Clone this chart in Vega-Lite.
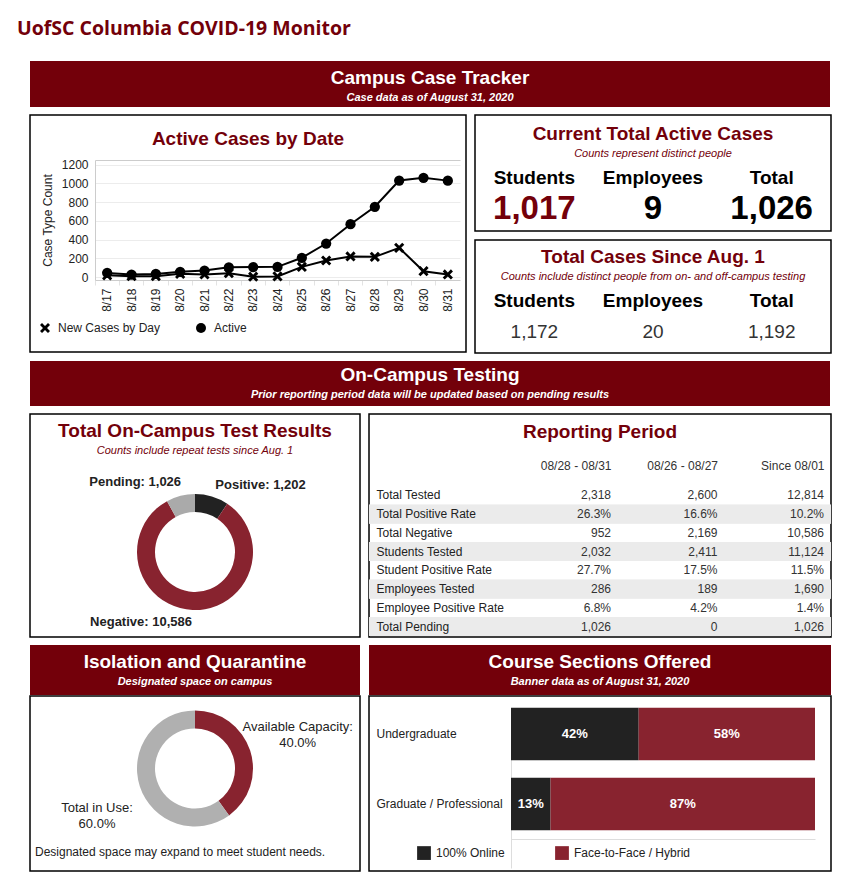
{
  "$schema": "https://vega.github.io/schema/vega-lite/v6.json",
  "background": "white",
  "padding": {"left": 17, "top": 18, "right": 4, "bottom": 2},
  "title": {"text": "UofSC Columbia COVID-19 Monitor", "anchor": "start", "dx": -13, "font": "Open Sans", "fontSize": 19.5, "fontWeight": "bold", "color": "#73000a", "offset": 22},
  "config": {
    "font": "Liberation Sans",
    "view": {"stroke": null},
    "title": {"color": "#73000a", "fontSize": 19, "fontWeight": "bold", "subtitleFontSize": 11, "subtitleFontStyle": "italic", "subtitleColor": "#73000a", "anchor": "middle", "frame": "group", "subtitlePadding": 4}
  },
  "spacing": 7,
  "resolve": {"scale": {"color": "independent", "shape": "independent"}, "legend": {"color": "independent", "shape": "independent"}},
  "vconcat": [
    {
      "width": 800, "height": 46,
      "data": {"values": [{"section": "Campus Case Tracker"}]},
      "title": {"text": "Campus Case Tracker", "subtitle": "Case data as of August 31, 2020", "color": "white", "subtitleColor": "white", "subtitleFontWeight": "bold", "offset": -42},
      "mark": {"type": "rect", "color": "#73000a"},
      "encoding": {}
    },
    {
      "spacing": 7,
      "resolve": {"scale": {"color": "independent", "shape": "independent"}, "legend": {"color": "independent", "shape": "independent"}},
      "hconcat": [
        {
          "width": 436, "height": 237,
          "view": {"stroke": "black", "strokeWidth": 1.5},
          "title": {"text": "Active Cases by Date", "offset": -34},
          "data": {"values": [
            {"date": "8/17", "series": "Active", "count": 45}, {"date": "8/18", "series": "Active", "count": 28},
            {"date": "8/19", "series": "Active", "count": 35}, {"date": "8/20", "series": "Active", "count": 57},
            {"date": "8/21", "series": "Active", "count": 71}, {"date": "8/22", "series": "Active", "count": 105},
            {"date": "8/23", "series": "Active", "count": 108}, {"date": "8/24", "series": "Active", "count": 110},
            {"date": "8/25", "series": "Active", "count": 207}, {"date": "8/26", "series": "Active", "count": 359},
            {"date": "8/27", "series": "Active", "count": 565}, {"date": "8/28", "series": "Active", "count": 751},
            {"date": "8/29", "series": "Active", "count": 1031}, {"date": "8/30", "series": "Active", "count": 1060},
            {"date": "8/31", "series": "Active", "count": 1030},
            {"date": "8/17", "series": "New Cases by Day", "count": 20}, {"date": "8/18", "series": "New Cases by Day", "count": 10},
            {"date": "8/19", "series": "New Cases by Day", "count": 11}, {"date": "8/20", "series": "New Cases by Day", "count": 36},
            {"date": "8/21", "series": "New Cases by Day", "count": 29}, {"date": "8/22", "series": "New Cases by Day", "count": 43},
            {"date": "8/23", "series": "New Cases by Day", "count": 5}, {"date": "8/24", "series": "New Cases by Day", "count": 8},
            {"date": "8/25", "series": "New Cases by Day", "count": 110}, {"date": "8/26", "series": "New Cases by Day", "count": 178},
            {"date": "8/27", "series": "New Cases by Day", "count": 221}, {"date": "8/28", "series": "New Cases by Day", "count": 217},
            {"date": "8/29", "series": "New Cases by Day", "count": 313}, {"date": "8/30", "series": "New Cases by Day", "count": 64},
            {"date": "8/31", "series": "New Cases by Day", "count": 29}
          ]},
          "encoding": {
            "x": {"field": "date", "type": "ordinal", "sort": null,
                  "scale": {"type": "band", "range": [65, 430], "paddingInner": 0, "paddingOuter": 0},
                  "axis": {"orient": "bottom", "offset": -72, "title": null, "labelAngle": -90, "labelFontSize": 12, "labelColor": "#222", "labelPadding": 3, "bandPosition": 0, "tickColor": "#e3e3e3", "tickSize": 5, "domainColor": "#ccc", "grid": false}},
            "y": {"field": "count", "type": "quantitative",
                  "scale": {"domain": [-30, 1250], "range": [165, 45], "nice": false, "zero": false},
                  "axis": {"orient": "left", "offset": -65, "values": [0, 200, 400, 600, 800, 1000, 1200, 1250], "labelExpr": "datum.value > 1200 ? '' : datum.label", "format": "d", "title": "Case Type Count", "titleFontSize": 12, "titleFontWeight": "normal", "titleColor": "#222", "titlePadding": 7, "labelFontSize": 12, "labelColor": "#222", "ticks": false, "labelPadding": 7, "domainColor": "#ccc", "grid": true, "gridColor": {"condition": {"test": "datum.value > 1200", "value": "#cccccc"}, "value": "#ececec"}}}
          },
          "layer": [
            {"mark": {"type": "line", "color": "black", "strokeWidth": 2},
             "encoding": {"detail": {"field": "series"}}},
            {"mark": {"type": "point", "filled": true, "color": "black", "opacity": 1, "size": 105},
             "encoding": {"shape": {"field": "series", "type": "nominal",
               "scale": {"domain": ["New Cases by Day", "Active"], "range": ["M-1,-0.6L-0.6,-1L0,-0.4L0.6,-1L1,-0.6L0.4,0L1,0.6L0.6,1L0,0.4L-0.6,1L-1,0.6L-0.4,0Z", "circle"]},
               "legend": {"title": null, "orient": "none", "legendX": 9, "legendY": 207, "direction": "horizontal", "labelFontSize": 12, "labelColor": "#222", "symbolFillColor": "black", "symbolStrokeColor": "black", "symbolSize": 100, "columnPadding": 32, "labelOffset": 7}}}}
          ]
        },
        {
          "spacing": 7,
          "vconcat": [
            {
              "width": 356, "height": 116,
              "view": {"stroke": "black", "strokeWidth": 1.5},
              "title": {"text": "Current Total Active Cases", "subtitle": "Counts represent distinct people", "offset": -44},
              "data": {"values": [{"group": "Students", "count": "1,017"}, {"group": "Employees", "count": "9"}, {"group": "Total", "count": "1,026"}]},
              "encoding": {"x": {"field": "group", "type": "nominal", "sort": null, "scale": {"type": "band", "paddingInner": 0, "paddingOuter": 0}, "axis": null}},
              "layer": [
                {"mark": {"type": "text", "fontSize": 19, "fontWeight": "bold", "color": "black", "dy": 5}, "encoding": {"text": {"field": "group"}}},
                {"mark": {"type": "text", "fontSize": 33, "fontWeight": "bold", "dy": 36},
                 "encoding": {"text": {"field": "count"}, "color": {"condition": {"test": "datum.group === 'Students'", "value": "#73000a"}, "value": "black"}}}
              ]
            },
            {
              "width": 356, "height": 113,
              "view": {"stroke": "black", "strokeWidth": 1.5},
              "title": {"text": "Total Cases Since Aug. 1", "subtitle": "Counts include distinct people from on- and off-campus testing", "offset": -42},
              "data": {"values": [{"group": "Students", "count": "1,172"}, {"group": "Employees", "count": "20"}, {"group": "Total", "count": "1,192"}]},
              "encoding": {"x": {"field": "group", "type": "nominal", "sort": null, "scale": {"type": "band", "paddingInner": 0, "paddingOuter": 0}, "axis": null}},
              "layer": [
                {"mark": {"type": "text", "fontSize": 19, "fontWeight": "bold", "color": "black", "dy": 4.5}, "encoding": {"text": {"field": "group"}}},
                {"mark": {"type": "text", "fontSize": 19, "color": "#333", "dy": 35.5}, "encoding": {"text": {"field": "count"}}}
              ]
            }
          ]
        }
      ]
    },
    {
      "width": 800, "height": 45,
      "data": {"values": [{"section": "On-Campus Testing"}]},
      "title": {"text": "On-Campus Testing", "subtitle": "Prior reporting period data will be updated based on pending results", "color": "white", "subtitleColor": "white", "subtitleFontWeight": "bold", "offset": -39},
      "mark": {"type": "rect", "color": "#73000a"},
      "encoding": {}
    },
    {
      "spacing": 7,
      "resolve": {"scale": {"color": "independent", "shape": "independent"}, "legend": {"color": "independent", "shape": "independent"}},
      "hconcat": [
        {
          "width": 330, "height": 223,
          "view": {"stroke": "black", "strokeWidth": 1.5},
          "title": {"text": "Total On-Campus Test Results", "subtitle": "Counts include repeat tests since Aug. 1", "offset": -42},
          "data": {"values": [
            {"result": "Positive", "count": 1202, "label": "Positive: 1,202"},
            {"result": "Negative", "count": 10586, "label": "Negative: 10,586"},
            {"result": "Pending", "count": 1026, "label": "Pending: 1,026"}
          ]},
          "transform": [{"window": [{"op": "row_number", "as": "seq"}]}],
          "encoding": {
            "theta": {"field": "count", "type": "quantitative", "stack": true},
            "order": {"field": "seq", "type": "quantitative"}
          },
          "layer": [
            {"mark": {"type": "arc", "innerRadius": 40, "outerRadius": 58, "yOffset": 26.5},
             "encoding": {"color": {"field": "result", "type": "nominal", "scale": {"domain": ["Positive", "Negative", "Pending"], "range": ["#222222", "#88232f", "#aaaaaa"]}, "legend": null}}},
            {"mark": {"type": "text", "radius": 70, "align": "left", "baseline": "middle", "fontSize": 13, "fontWeight": "bold", "color": "#222", "dy": 26.5},
             "encoding": {"text": {"condition": {"test": "datum.result === 'Positive'", "field": "label"}, "value": ""}}},
            {"mark": {"type": "text", "radius": 70, "align": "right", "baseline": "middle", "fontSize": 13, "fontWeight": "bold", "color": "#222", "dy": 26.5},
             "encoding": {"text": {"condition": {"test": "datum.result === 'Negative'", "field": "label"}, "value": ""}}},
            {"mark": {"type": "text", "radius": 72, "align": "right", "baseline": "middle", "fontSize": 13, "fontWeight": "bold", "color": "#222", "dy": 26.5, "dx": 4},
             "encoding": {"text": {"condition": {"test": "datum.result === 'Pending'", "field": "label"}, "value": ""}}}
          ]
        },
        {
          "width": 462, "height": 223,
          "view": {"stroke": "black", "strokeWidth": 1.5},
          "title": {"text": "Reporting Period", "offset": -28},
          "data": {"values": [
            {"metric": "Total Tested", "period": "08/28 - 08/31", "value": "2,318"}, {"metric": "Total Tested", "period": "08/26 - 08/27", "value": "2,600"}, {"metric": "Total Tested", "period": "Since 08/01", "value": "12,814"},
            {"metric": "Total Positive Rate", "period": "08/28 - 08/31", "value": "26.3%"}, {"metric": "Total Positive Rate", "period": "08/26 - 08/27", "value": "16.6%"}, {"metric": "Total Positive Rate", "period": "Since 08/01", "value": "10.2%"},
            {"metric": "Total Negative", "period": "08/28 - 08/31", "value": "952"}, {"metric": "Total Negative", "period": "08/26 - 08/27", "value": "2,169"}, {"metric": "Total Negative", "period": "Since 08/01", "value": "10,586"},
            {"metric": "Students Tested", "period": "08/28 - 08/31", "value": "2,032"}, {"metric": "Students Tested", "period": "08/26 - 08/27", "value": "2,411"}, {"metric": "Students Tested", "period": "Since 08/01", "value": "11,124"},
            {"metric": "Student Positive Rate", "period": "08/28 - 08/31", "value": "27.7%"}, {"metric": "Student Positive Rate", "period": "08/26 - 08/27", "value": "17.5%"}, {"metric": "Student Positive Rate", "period": "Since 08/01", "value": "11.5%"},
            {"metric": "Employees Tested", "period": "08/28 - 08/31", "value": "286"}, {"metric": "Employees Tested", "period": "08/26 - 08/27", "value": "189"}, {"metric": "Employees Tested", "period": "Since 08/01", "value": "1,690"},
            {"metric": "Employee Positive Rate", "period": "08/28 - 08/31", "value": "6.8%"}, {"metric": "Employee Positive Rate", "period": "08/26 - 08/27", "value": "4.2%"}, {"metric": "Employee Positive Rate", "period": "Since 08/01", "value": "1.4%"},
            {"metric": "Total Pending", "period": "08/28 - 08/31", "value": "1,026"}, {"metric": "Total Pending", "period": "08/26 - 08/27", "value": "0"}, {"metric": "Total Pending", "period": "Since 08/01", "value": "1,026"}
          ]},
          "encoding": {
            "y": {"field": "metric", "type": "nominal", "sort": null,
                  "scale": {"type": "band", "domain": ["Total Tested", "Total Positive Rate", "Total Negative", "Students Tested", "Student Positive Rate", "Employees Tested", "Employee Positive Rate", "Total Pending"], "range": [72, 222], "paddingInner": 0, "paddingOuter": 0},
                  "axis": {"orient": "left", "offset": -7, "labelAlign": "left", "labelPadding": 0, "ticks": false, "domain": false, "title": null, "labelFontSize": 12, "labelColor": "#222", "grid": false}}
          },
          "layer": [
            {"transform": [{"filter": {"field": "metric", "oneOf": ["Total Positive Rate", "Students Tested", "Employees Tested", "Total Pending"]}}],
             "mark": {"type": "rect", "color": "#ebebeb"}},
            {"mark": {"type": "text", "align": "right", "baseline": "middle", "fontSize": 12, "color": "#333"},
             "encoding": {
               "x": {"field": "period", "type": "nominal", "sort": null,
                     "scale": {"type": "point", "domain": ["08/28 - 08/31", "08/26 - 08/27", "Since 08/01"], "range": [242, 455], "padding": 0},
                     "axis": {"orient": "top", "offset": -60, "labelAlign": "right", "labelAngle": 0, "labelPadding": 2, "ticks": false, "domain": false, "title": null, "labelFontSize": 12, "labelColor": "#333", "grid": false}},
               "text": {"field": "value"}}}
          ]
        }
      ]
    },
    {
      "spacing": 7,
      "resolve": {"scale": {"color": "independent", "shape": "independent"}, "legend": {"color": "independent", "shape": "independent"}},
      "hconcat": [
        {
          "spacing": 0,
          "resolve": {"scale": {"color": "independent"}, "legend": {"color": "independent"}},
          "vconcat": [
            {
              "width": 330, "height": 50,
              "data": {"values": [{"section": "Isolation and Quarantine"}]},
              "title": {"text": "Isolation and Quarantine", "subtitle": "Designated space on campus", "color": "white", "subtitleColor": "white", "subtitleFontWeight": "bold", "offset": -42},
              "mark": {"type": "rect", "color": "#73000a"},
              "encoding": {}
            },
            {
              "width": 330, "height": 175,
              "view": {"stroke": "black", "strokeWidth": 1.5},
              "title": {"text": "Designated space may expand to meet student needs.", "orient": "bottom", "anchor": "start", "dx": 5, "offset": -24, "fontSize": 12, "fontWeight": "normal", "color": "#222"},
              "data": {"values": [
                {"status": "Available Capacity", "share": 0.4, "label": "Available Capacity:\n40.0%"},
                {"status": "Total in Use", "share": 0.6, "label": "Total in Use:\n60.0%"}
              ]},
              "encoding": {"theta": {"field": "share", "type": "quantitative", "stack": true}, "detail": {"field": "status"}},
              "layer": [
                {"mark": {"type": "arc", "innerRadius": 40, "outerRadius": 58, "yOffset": -15},
                 "encoding": {"color": {"field": "status", "type": "nominal", "scale": {"domain": ["Available Capacity", "Total in Use"], "range": ["#88232f", "#b0b0b0"]}, "legend": null}}},
                {"mark": {"type": "text", "radius": 108, "align": "center", "baseline": "middle", "fontSize": 13, "lineBreak": "\n", "lineHeight": 16, "color": "#222", "dy": -23},
                 "encoding": {"text": {"condition": {"test": "datum.status === 'Available Capacity'", "field": "label"}, "value": ""}}},
                {"mark": {"type": "text", "radius": 103, "align": "center", "baseline": "middle", "fontSize": 13, "lineBreak": "\n", "lineHeight": 16, "color": "#222", "dy": -7},
                 "encoding": {"text": {"condition": {"test": "datum.status === 'Total in Use'", "field": "label"}, "value": ""}}}
              ]
            }
          ]
        },
        {
          "spacing": 0,
          "resolve": {"scale": {"color": "independent"}, "legend": {"color": "independent"}},
          "vconcat": [
            {
              "width": 462, "height": 50,
              "data": {"values": [{"section": "Course Sections Offered"}]},
              "title": {"text": "Course Sections Offered", "subtitle": "Banner data as of August 31, 2020", "color": "white", "subtitleColor": "white", "subtitleFontWeight": "bold", "offset": -42},
              "mark": {"type": "rect", "color": "#73000a"},
              "encoding": {}
            },
            {
              "width": 462, "height": 175,
              "view": {"stroke": "black", "strokeWidth": 1.5},
              "data": {"values": [
                {"level": "Undergraduate", "mode": "100% Online", "pct": 0.42},
                {"level": "Undergraduate", "mode": "Face-to-Face / Hybrid", "pct": 0.58},
                {"level": "Graduate / Professional", "mode": "100% Online", "pct": 0.13},
                {"level": "Graduate / Professional", "mode": "Face-to-Face / Hybrid", "pct": 0.87}
              ]},
              "encoding": {
                "y": {"field": "level", "type": "nominal", "sort": ["Undergraduate", "Graduate / Professional"],
                      "scale": {"range": [3, 143], "paddingInner": 0.25, "paddingOuter": 0.125},
                      "axis": {"orient": "left", "offset": -7, "labelAlign": "left", "labelPadding": 0, "ticks": false, "domain": false, "title": null, "labelFontSize": 12, "labelColor": "#222", "grid": false}},
                "x": {"field": "pct", "type": "quantitative", "stack": "zero",
                      "scale": {"domain": [0, 1], "range": [142, 446], "nice": false},
                      "axis": {"orient": "bottom", "offset": -32, "labels": false, "ticks": false, "title": null, "domainColor": "#dddddd", "grid": true, "values": [0], "gridColor": "#dddddd"}}
              },
              "layer": [
                {"mark": {"type": "bar"},
                 "encoding": {"color": {"field": "mode", "type": "nominal",
                   "scale": {"domain": ["100% Online", "Face-to-Face / Hybrid"], "range": ["#222222", "#88232f"]},
                   "legend": {"title": null, "orient": "none", "legendX": 48, "legendY": 150, "direction": "horizontal", "symbolType": "square", "symbolSize": 190, "symbolStrokeWidth": 0, "labelFontSize": 12, "labelColor": "#222", "columnPadding": 50, "labelOffset": 5}}}},
                {"mark": {"type": "text", "color": "white", "fontSize": 13, "fontWeight": "bold", "baseline": "middle", "align": "center"},
                 "encoding": {
                   "x": {"field": "pct", "type": "quantitative", "stack": "zero", "bandPosition": 0.5},
                   "detail": {"field": "mode"},
                   "text": {"field": "pct", "type": "quantitative", "format": ".0%"}}}
              ]
            }
          ]
        }
      ]
    }
  ]
}
